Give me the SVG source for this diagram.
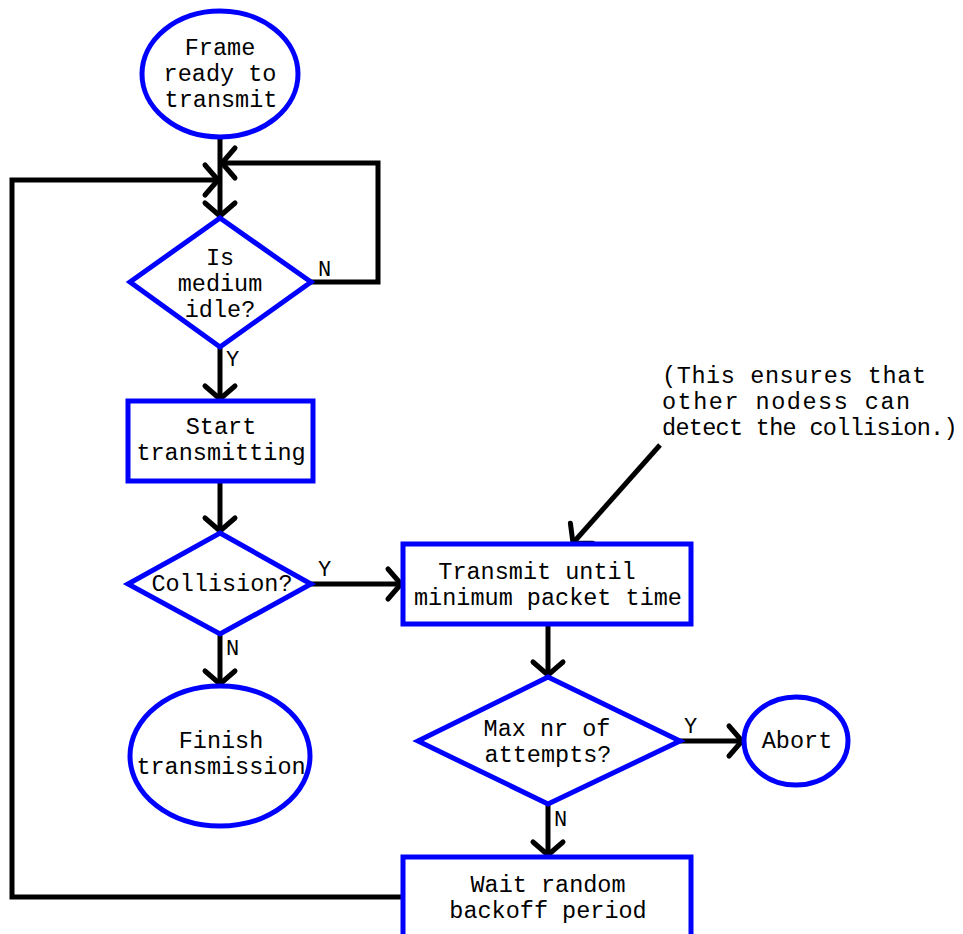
<svg xmlns="http://www.w3.org/2000/svg" width="963" height="934" viewBox="0 0 963 934">
<style>
.shape{fill:#fff;stroke:#0000ff;stroke-width:5}
.conn{fill:none;stroke:#000;stroke-width:5;stroke-linejoin:miter}
text{font-family:"Liberation Mono","DejaVu Sans Mono",monospace;font-size:23.5px;fill:#000;text-anchor:middle;dominant-baseline:central}
.note{text-anchor:start}
.lbl{text-anchor:start;font-size:22px}
</style>
<defs>
<marker id="arr" viewBox="-16 -16 32 32" refX="0" refY="0" markerWidth="32" markerHeight="32" markerUnits="userSpaceOnUse" orient="auto" overflow="visible">
<path d="M-13,-15 L0,0 L-13,15" fill="none" stroke="#000" stroke-width="5" stroke-linecap="round" stroke-linejoin="round"/>
</marker>
</defs>
<g id="connectors">
<path class="conn" d="M220,137 V216" marker-end="url(#arr)"/>
<path class="conn" d="M311,282 H378 V163 H222" marker-end="url(#arr)"/>
<path class="conn" d="M403,897 H12 V180 H218" marker-end="url(#arr)"/>
<path class="conn" d="M220,347 V399" marker-end="url(#arr)"/>
<path class="conn" d="M220,481 V531" marker-end="url(#arr)"/>
<path class="conn" d="M311,584 H401" marker-end="url(#arr)"/>
<path class="conn" d="M220,634 V684" marker-end="url(#arr)"/>
<path class="conn" d="M548,624 V675" marker-end="url(#arr)"/>
<path class="conn" d="M680,741 H742" marker-end="url(#arr)"/>
<path class="conn" d="M548,804 V855" marker-end="url(#arr)"/>
<path class="conn" d="M660,445 L573,543" marker-end="url(#arr)"/>
<text class="lbl" x="318" y="270">N</text>
<text class="lbl" x="226" y="360">Y</text>
<text class="lbl" x="318" y="570">Y</text>
<text class="lbl" x="226" y="649">N</text>
<text class="lbl" x="684" y="727">Y</text>
<text class="lbl" x="554" y="820">N</text>
</g>
<g id="start">
<ellipse class="shape" cx="220" cy="74" rx="78" ry="63"/>
<text x="220" y="48">Frame</text>
<text x="220" y="74">ready to</text>
<text x="221" y="100">transmit</text>
</g>
<g id="idle">
<polygon class="shape" points="220,218 311,282 220,347 130,282"/>
<text x="220" y="258">Is</text>
<text x="220" y="284">medium</text>
<text x="220" y="310">idle?</text>
</g>
<g id="transmitting">
<rect class="shape" x="128" y="401" width="185" height="80"/>
<text x="221" y="427">Start</text>
<text x="221" y="453">transmitting</text>
</g>
<g id="collision">
<polygon class="shape" points="220,533 311,584 220,634 128,584"/>
<text x="222" y="584">Collision?</text>
</g>
<g id="finish">
<ellipse class="shape" cx="220" cy="756" rx="90" ry="70"/>
<text x="221" y="741">Finish</text>
<text x="221" y="767">transmission</text>
</g>
<g id="jam">
<rect class="shape" x="403" y="544" width="288" height="80"/>
<text x="537" y="572">Transmit until</text>
<text x="548" y="598">minimum packet time</text>
</g>
<g id="attempts">
<polygon class="shape" points="548,677 680,741 548,804 418,741"/>
<text x="547" y="729">Max nr of</text>
<text x="548" y="755">attempts?</text>
</g>
<g id="abort">
<ellipse class="shape" cx="796" cy="741" rx="52" ry="44"/>
<text x="797" y="741">Abort</text>
</g>
<g id="backoff">
<rect class="shape" x="403" y="857" width="288" height="100"/>
<text x="548" y="885">Wait random</text>
<text x="548" y="911">backoff period</text>
</g>
<g id="note">
<text class="note" x="662" y="376" letter-spacing="0.6">(This ensures that</text>
<text class="note" x="662" y="402" letter-spacing="1.5">other nodess can</text>
<text class="note" x="662" y="428" letter-spacing="-0.7">detect the collision.)</text>
</g>
</svg>
